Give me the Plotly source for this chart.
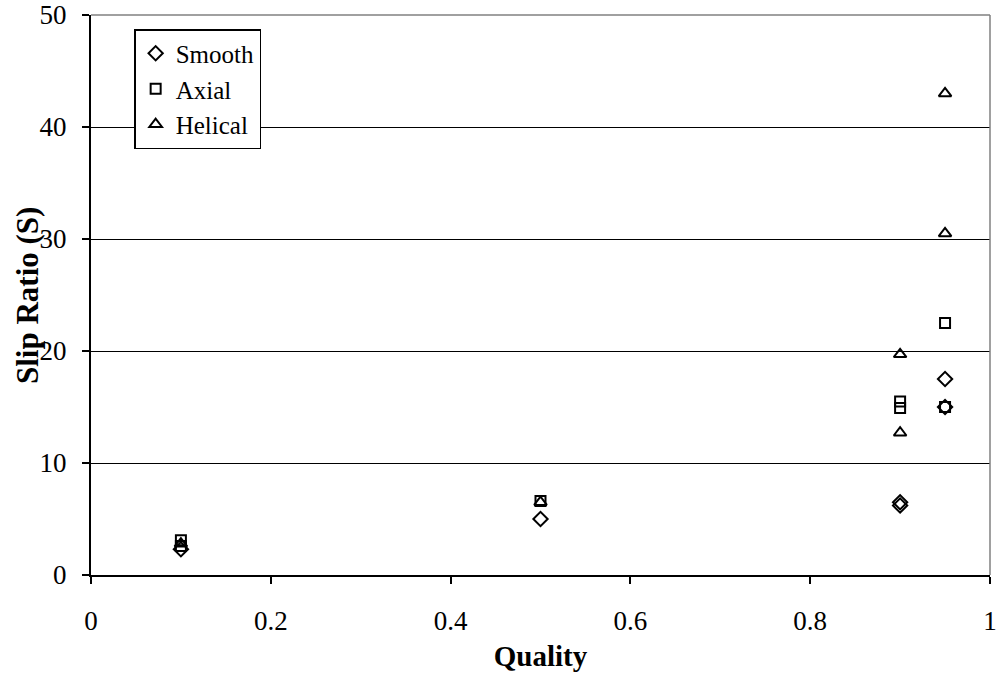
import plotly.graph_objects as go

smooth_x = [0.1, 0.5, 0.9, 0.9, 0.95, 0.95]
smooth_y = [2.3, 5.0, 6.5, 6.2, 17.5, 15.0]
axial_x = [0.1, 0.1, 0.5, 0.9, 0.9, 0.95, 0.95]
axial_y = [3.1, 2.6, 6.6, 15.5, 14.9, 22.5, 15.0]
helical_x = [0.1, 0.5, 0.9, 0.9, 0.95, 0.95]
helical_y = [2.8, 6.5, 19.7, 12.7, 43.0, 30.5]

font_family = "Liberation Serif, Times New Roman, serif"

fig = go.Figure()
series = [
    ("Smooth", smooth_x, smooth_y, "diamond-open", 11),
    ("Axial", axial_x, axial_y, "square-open", 10),
    ("Helical", helical_x, helical_y, "triangle-up-open", 11),
]
for name, xs, ys, sym, sz in series:
    fig.add_trace(go.Scatter(
        x=xs, y=ys, mode="markers", name=name,
        marker=dict(symbol=sym, size=sz, color="black", line=dict(color="black", width=2)),
    ))

fig.update_layout(
    width=1000, height=677,
    margin=dict(l=91, r=10, t=15, b=102),
    plot_bgcolor="white", paper_bgcolor="white",
    font=dict(family=font_family, size=27, color="black"),
    showlegend=True,
    legend=dict(
        x=0.048, y=0.975, xanchor="left", yanchor="top",
        bgcolor="white", bordercolor="black", borderwidth=1.5,
        font=dict(family=font_family, size=25, color="black"),
        itemwidth=30,
    ),
    xaxis=dict(
        range=[0, 1], dtick=0.2, tick0=0, automargin=False,
        showline=True, linecolor="black", linewidth=2,
        ticks="outside", ticklen=7, tickcolor="black", tickwidth=1.5,
        ticklabelstandoff=14,
        showgrid=False, zeroline=False, mirror=False,
        title=dict(text="<b>Quality</b>", font=dict(family=font_family, size=29), standoff=10),
        tickfont=dict(family=font_family, size=27),
    ),
    yaxis=dict(
        range=[0, 50], dtick=10, tick0=0, automargin=False,
        showline=True, linecolor="black", linewidth=2,
        ticks="outside", ticklen=7, tickcolor="black", tickwidth=1.5,
        ticklabelstandoff=10,
        showgrid=True, gridcolor="black", gridwidth=1,
        zeroline=False,
        tickfont=dict(family=font_family, size=27),
    ),
    annotations=[
        dict(text="<b>Slip Ratio (S)</b>", textangle=-90, xref="paper", yref="paper",
             x=-0.0712, y=0.5, xanchor="center", yanchor="middle", showarrow=False,
             font=dict(family=font_family, size=31, color="black")),
    ],
    shapes=[
        dict(type="line", xref="paper", yref="paper", x0=0, x1=1, y0=1, y1=1,
             line=dict(color="#808080", width=1.5)),
        dict(type="line", xref="paper", yref="paper", x0=1, x1=1, y0=0, y1=1,
             line=dict(color="#808080", width=1.5)),
    ],
)

fig.write_html("out.html")
